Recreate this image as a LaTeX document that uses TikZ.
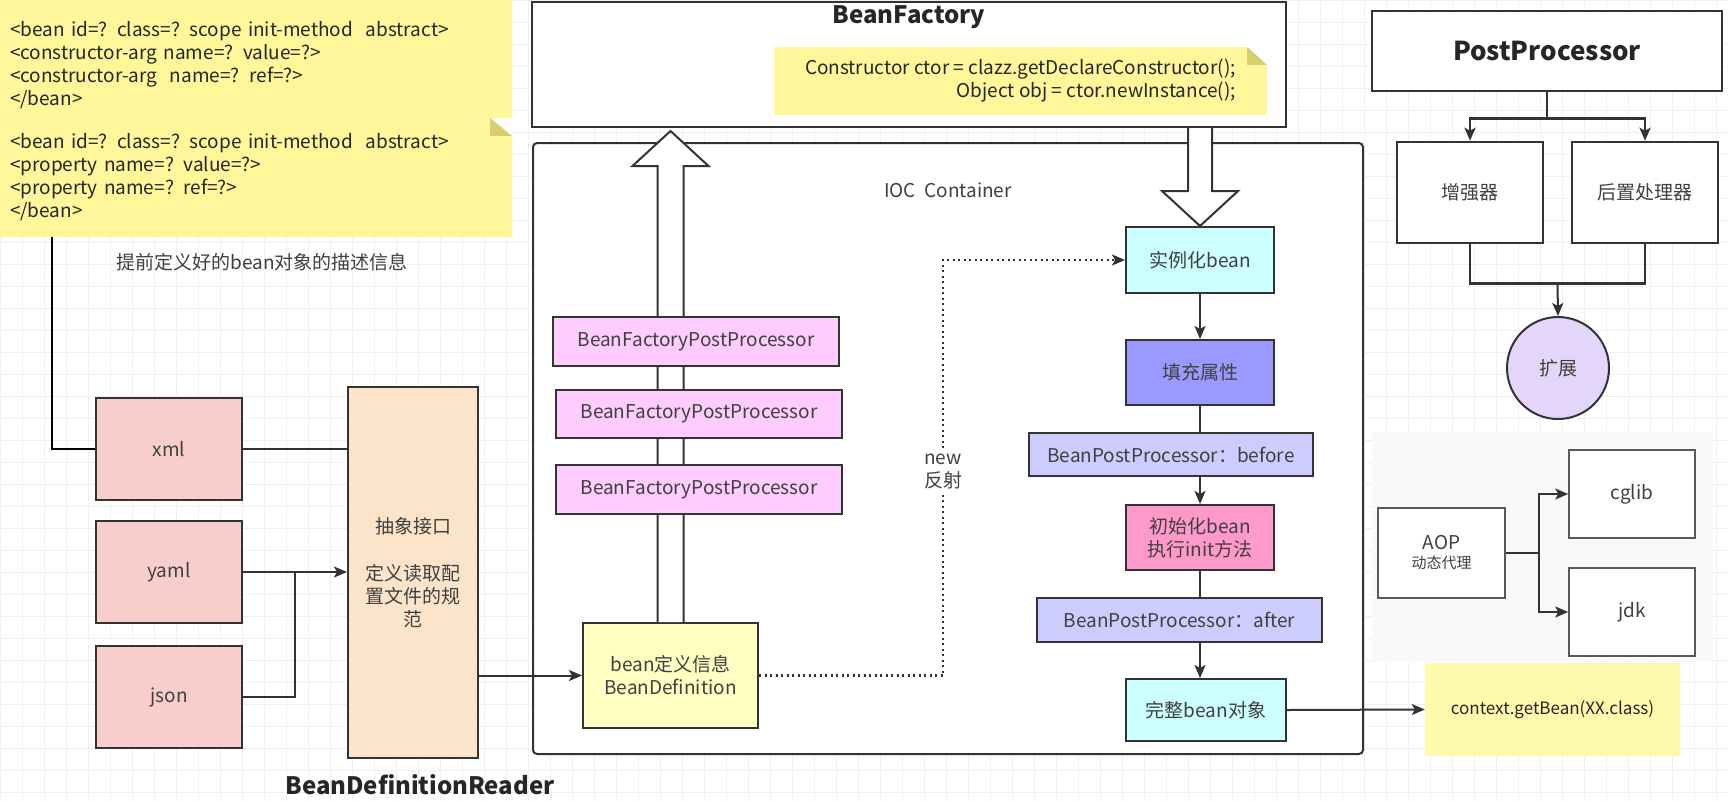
\documentclass[tikz,border=0pt]{standalone}
\usepackage{fontspec}
\setmainfont{Noto Sans CJK SC}
\usetikzlibrary{arrows.meta,calc}
\definecolor{lineC}{HTML}{333333}
\definecolor{txtC}{HTML}{404040}
\definecolor{gridC}{HTML}{F0F0F0}
\definecolor{noteC}{HTML}{FFF79A}
\definecolor{foldC}{HTML}{D6CF6E}
\definecolor{srcC}{HTML}{F8CECC}
\definecolor{readerC}{HTML}{FCE4CA}
\definecolor{bfppC}{HTML}{FFCCFF}
\definecolor{bdefC}{HTML}{FFFFC2}
\definecolor{cyanC}{HTML}{CCFFFF}
\definecolor{fillC}{HTML}{9999FF}
\definecolor{bppC}{HTML}{CCCCFF}
\definecolor{initC}{HTML}{FF99CC}
\definecolor{extC}{HTML}{E4D6FA}
\begin{document}
\begin{tikzpicture}[x=1pt,y=-1pt,
  box/.style={draw=lineC,line width=2pt,inner sep=0pt,align=center,text=txtC,font=\fontsize{19}{23}\selectfont},
  thinbox/.style={box,draw=black!65,line width=1.6pt},
  note/.style={fill=noteC,inner xsep=10pt,inner ysep=0pt,text=black!85,font=\fontsize{19}{23}\selectfont},
  title/.style={text=black!85,font=\fontsize{24}{28}\selectfont\bfseries},
  plain/.style={text=txtC,font=\fontsize{19}{23}\selectfont,align=center},
  conn/.style={draw=lineC,line width=2pt},
  arr/.style={conn,-{Stealth[length=13pt,width=11pt,inset=3pt]}},
  dotline/.style={draw=lineC,line width=2.2pt,dash pattern=on 2pt off 3.5pt},
  hollow/.style={draw=lineC,line width=2pt,fill=white,line join=miter}]
\useasboundingbox (0,0) rectangle (1728,801);
\fill[white] (0,0) rectangle (1728,801);
\draw[gridC,line width=0.7pt,step=22pt] (0,0) grid (1728,801);
\fill[gray!5] (1372,432) rectangle (1712,662);

\node[note,minimum width=512pt,minimum height=130pt,text width=492pt,align=left] (note1) at (256,65)
  {<bean id=? class=? scope init-method\ \ abstract>\\<constructor-arg name=? value=?>\\<constructor-arg\ \ name=? ref=?>\\</bean>};
\node[note,minimum width=512pt,minimum height=119pt,text width=492pt,align=left] (note2) at (256,177.5)
  {<bean id=? class=? scope init-method\ \ abstract>\\<property name=? value=?>\\<property name=? ref=?>\\</bean>};
\fill[foldC] ($(note2.north east)+(-22,0)$) -- ++(22,18) -- ++(-22,0) -- cycle;
\fill[white] ($(note2.north east)+(-22,0)$) -- ++(22,18) -- ++(0,-18) -- cycle;
\node[plain] (desc) at (262,262) {提前定义好的bean对象的描述信息};

\node[box,fill=srcC,minimum width=146pt,minimum height=102pt] (xml) at (169,449) {xml};
\node[box,fill=srcC,minimum width=146pt,minimum height=102pt] (yaml) at (169,572) {yaml};
\node[box,fill=srcC,minimum width=146pt,minimum height=102pt] (json) at (169,697) {json};
\node[box,fill=readerC,minimum width=130pt,minimum height=371pt] (reader) at (413,572.5)
  {抽象接口\\[24pt]定义读取配\\置文件的规\\范};
\node[title] (readertitle) at (420,785) {BeanDefinitionReader};

\node[box,fill=white,minimum width=754pt,minimum height=125pt] (bf) at (909,64.5) {};
\node[title] (bftitle) at (909,17) {BeanFactory};
\node[note,fill=noteC,minimum width=493pt,minimum height=68pt,inner xsep=15pt,align=right] (ctor) at (1020.5,81)
  {Constructor ctor = clazz.getDeclareConstructor();\\Object obj = ctor.newInstance();};
\fill[foldC] ($(ctor.north east)+(-20,0)$) -- ++(20,18) -- ++(-20,0) -- cycle;
\fill[white] ($(ctor.north east)+(-20,0)$) -- ++(20,18) -- ++(0,-18) -- cycle;

\node[box,fill=white,rounded corners=4pt,minimum width=830pt,minimum height=611pt] (ioc) at (948,448.5) {};
\node[plain] (ioctitle) at (948,190) {IOC\ \ Container};

\node[box,fill=bdefC,minimum width=175pt,minimum height=105pt] (bdef) at (670.5,675.5) {bean定义信息\\BeanDefinition};
\node[box,fill=cyanC,minimum width=148pt,minimum height=66pt] (inst) at (1200,260) {实例化bean};

\coordinate (uptip) at (bdef.north |- bf.south);
\draw[hollow] ($(bdef.north)+(-13,0)$) -- ($(uptip)+(-13,38)$) -- ($(uptip)+(-38,38)$) -- ($(uptip)+(0,3)$)
  -- ($(uptip)+(38,38)$) -- ($(uptip)+(13,38)$) -- ($(bdef.north)+(13,0)$);
\coordinate (dntop) at (inst.north |- bf.south);
\draw[hollow] ($(dntop)+(-12,0)$) -- ($(inst.north)+(-12,-35)$) -- ($(inst.north)+(-38,-35)$) -- (inst.north)
  -- ($(inst.north)+(38,-35)$) -- ($(inst.north)+(12,-35)$) -- ($(dntop)+(12,0)$);

\node[box,fill=bfppC,minimum width=286pt,minimum height=49pt] (bfpp1) at (696,341.5) {BeanFactoryPostProcessor};
\node[box,fill=bfppC,minimum width=286pt,minimum height=48pt] (bfpp2) at (699,414) {BeanFactoryPostProcessor};
\node[box,fill=bfppC,minimum width=286pt,minimum height=49pt] (bfpp3) at (699,489.5) {BeanFactoryPostProcessor};

\node[box,fill=fillC,minimum width=148pt,minimum height=65pt] (fill) at (1200,372.5) {填充属性};
\node[box,fill=bppC,minimum width=284pt,minimum height=43pt] (before) at (1171,454.5) {BeanPostProcessor：before};
\node[box,fill=initC,minimum width=148pt,minimum height=65pt] (init) at (1200,537.5) {初始化bean\\执行init方法};
\node[box,fill=bppC,minimum width=285pt,minimum height=44pt] (after) at (1179.5,620) {BeanPostProcessor：after};
\node[box,fill=cyanC,minimum width=160pt,minimum height=62pt] (whole) at (1206,710) {完整bean对象};

\node[plain,inner sep=5pt] (refl) at (943,471) {new\\反射};
\draw[dotline] (bdef.east) -| (refl.south);
\draw[dotline,-{Stealth[length=13pt,width=11pt,inset=3pt]}] (refl.north) |- (inst.west);

\draw[arr] (inst.south) -- (fill.north);
\draw[conn] (fill.south) -- (fill.south |- before.north);
\draw[arr] (fill.south |- before.south) -- (init.north);
\draw[conn] (init.south) -- (init.south |- after.north);
\draw[arr] (init.south |- after.south) -- (init.south |- whole.north);

\coordinate (notefoot) at (52,237);
\draw[conn,black] (notefoot) |- (xml.west);
\draw[conn] (xml.east) -- (xml.east -| reader.west);
\draw[arr] (yaml.east) -- (yaml.east -| reader.west);
\coordinate (merge) at ($(yaml.east)!0.5!(yaml.east -| reader.west)$);
\draw[conn] (json.east) -| (merge);
\draw[arr] (reader.east |- bdef.west) -- (bdef.west);

\node[box,fill=white,line width=2.5pt,minimum width=350pt,minimum height=80pt,font=\fontsize{26}{30}\selectfont\bfseries,text=black!85] (pp) at (1547,51) {PostProcessor};
\node[box,fill=white,line width=2.5pt,minimum width=146pt,minimum height=101pt] (enh) at (1470,192.5) {增强器};
\node[box,fill=white,line width=2.5pt,minimum width=146pt,minimum height=101pt] (post) at (1645,192.5) {后置处理器};
\node[box,circle,fill=extC,minimum size=102pt] (ext) at (1558,368) {扩展};
\draw[arr,line width=2.5pt] (pp.south) -- ++(0,26) -| (enh.north);
\draw[arr,line width=2.5pt] (pp.south) -- ++(0,26) -| (post.north);
\draw[conn,line width=2.5pt] (enh.south) -- ++(0,39) -| (post.south);
\draw[arr] ($(enh.south)!0.5!(post.south)+(0,39)$) -- (ext.north);

\node[thinbox,fill=white,minimum width=127pt,minimum height=90pt] (aop) at (1441.5,553) {AOP\\[-4pt]{\fontsize{15}{18}\selectfont 动态代理}};
\node[thinbox,fill=white,minimum width=126pt,minimum height=88pt] (cglib) at (1632,494) {cglib};
\node[thinbox,fill=white,minimum width=126pt,minimum height=88pt] (jdk) at (1632,612) {jdk};
\draw[arr,line width=1.6pt] (aop.east) -- ++(33,0) |- (cglib.west);
\draw[arr,line width=1.6pt] (aop.east) -- ++(33,0) |- (jdk.west);

\node[note,fill=noteC!80,minimum width=255pt,minimum height=93pt,font=\fontsize{17}{21}\selectfont] (getbean) at (1552.5,709.5) {context.getBean(XX.class)};
\draw[arr] (whole.east) -- (getbean.west);
\end{tikzpicture}
\end{document}
